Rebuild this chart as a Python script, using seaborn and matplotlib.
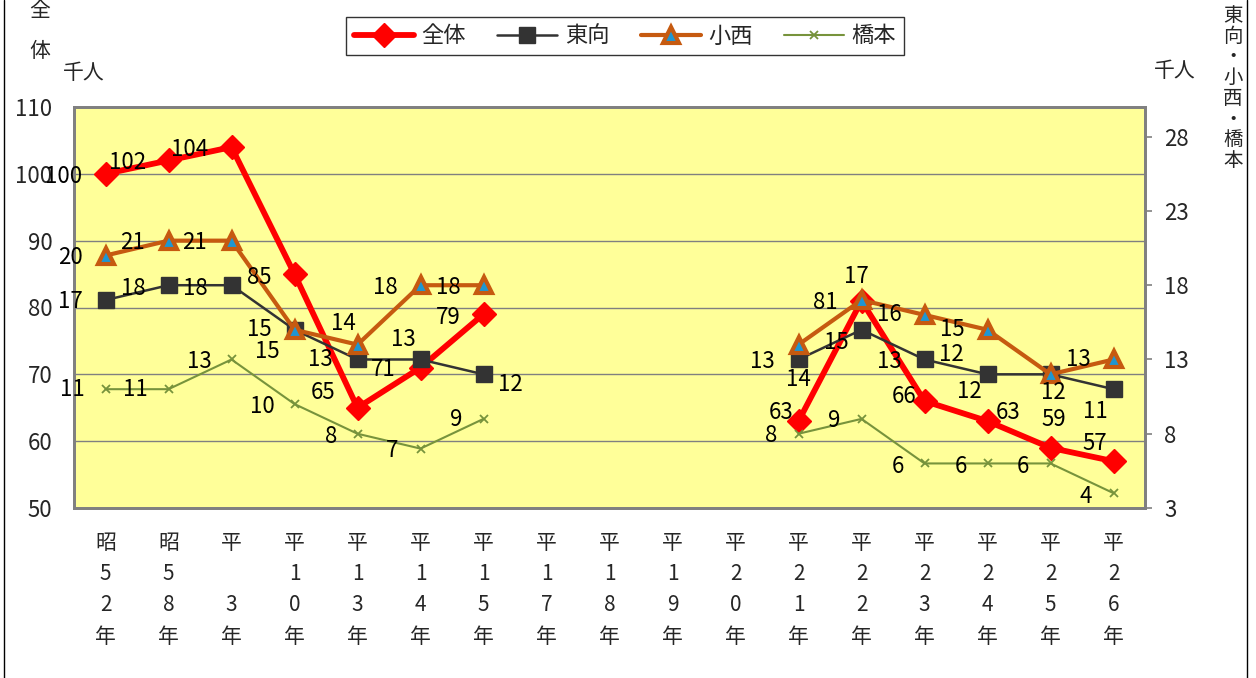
import numpy as np
import pandas as pd
import seaborn as sns
import matplotlib.pyplot as plt
from matplotlib.lines import Line2D

# categories on the x axis
years = ['昭52年', '昭58年', '平3年', '平10年', '平13年', '平14年', '平15年', '平17年',
         '平18年', '平19年', '平20年', '平21年', '平22年', '平23年', '平24年', '平25年', '平26年']

nan = np.nan
# 全体 (left axis, 千人)
zentai = [100, 102, 104, 85, 65, 71, 79, nan, nan, nan, nan, 63, 81, 66, 63, 59, 57]
# right axis series (千人)
higashimukai = [17, 18, 18, 15, 13, 13, 12, nan, nan, nan, nan, 13, 15, 13, 12, 12, 11]
konishi = [20, 21, 21, 15, 14, 18, 18, nan, nan, nan, nan, 14, 17, 16, 15, 12, 13]
hashimoto = [11, 11, 13, 10, 8, 7, 9, nan, nan, nan, nan, 8, 9, 6, 6, 6, 4]

# label placement (pixels: dx, dy downwards, alignment)
L = lambda dx=-22, dy=2: (dx, dy, 'right')
lab_zentai = [L(-23, 3), L(), L(-23), L(-23, 3), L(-22, -15), L(-25), L(-23, 3), None, None, None, None,
              L(-5, -9), L(-24, 2), L(-8, -5), (8, -9, 'left'), (3, -28, 'center'), L(-6, -18)]
lab_higashi = [L(-23, 1), L(-23, 3), L(-24, 3), L(-23, 0), L(-25, 0), L(-5, -20), (15, 10, 'left'),
               None, None, None, None, L(-24, 2), L(-13, 13), L(-23, 2), L(-24, -20), L(-69, 17), L(-6, 22)]
lab_konishi = [L(-23), L(-24), L(-25), L(-15, 22), L(-2, -21), L(-23), L(-23), None, None, None, None,
               (0, 35, 'center'), (-5, -24, 'center'), L(-23, 0), L(-23, 0), (3, 18, 'center'), L(-23, 0)]
lab_hashi = [L(-21, 0), L(-21, 0), L(-20), L(-20), L(-20, 3), L(-22), L(-21, 1), None, None, None, None,
             L(-21), L(-21), L(-20, 3), L(-20, 3), L(-21, 3), L(-21, 3)]

sns.set_style('white')
plt.rcParams['font.family'] = ['Noto Sans CJK JP', 'DejaVu Sans']

fig = plt.figure(figsize=(12.56, 6.78), dpi=100)
ax = fig.add_axes([74 / 1256, 1 - 508 / 678, (1145 - 74) / 1256, (508 - 107) / 678])
ax2 = ax.twinx()

x = np.arange(len(years))
segments = [slice(0, 7), slice(11, 17)]

styles = {
    '全体': dict(color='#FF0000', lw=4.2, marker='D', markersize=12,
               markerfacecolor='#FF0000', markeredgecolor='#FF0000', markeredgewidth=1),
    '東向': dict(color='#333333', lw=1.8, marker='s', markersize=12,
               markerfacecolor='#333333', markeredgecolor='#333333', markeredgewidth=1),
    '小西': dict(color='#C65A10', lw=3, marker='^', markersize=11,
               markerfacecolor='#1E96D2', markeredgecolor='#C65A10', markeredgewidth=3),
    '橋本': dict(color='#77933C', lw=1.5, marker='x', markersize=6,
               markerfacecolor='#77933C', markeredgecolor='#77933C', markeredgewidth=1.3),
}

series = [('全体', zentai, ax, lab_zentai), ('東向', higashimukai, ax2, lab_higashi),
          ('小西', konishi, ax2, lab_konishi), ('橋本', hashimoto, ax2, lab_hashi)]

for name, vals, a, _ in series:
    vals = np.array(vals, dtype=float)
    for seg in segments:
        sns.lineplot(x=x[seg], y=vals[seg], ax=a, legend=False, **styles[name])

# data labels, drawn on the top axes so they sit above the lines
for name, vals, a, labs in series:
    for i, v in enumerate(vals):
        if np.isnan(v) or labs[i] is None:
            continue
        dx, dy, ha = labs[i]
        ax2.annotate(f'{int(v)}', xy=(x[i], v), xycoords=a.transData,
                     xytext=(dx, -dy), textcoords='offset pixels',
                     ha=ha, va='center', fontsize=16, color='black', zorder=10)

ax.set_xlim(-0.5, len(years) - 0.5)
ax.set_ylim(50, 110)
ax.set_yticks(range(50, 111, 10))
ax2.set_ylim(3, 30)
ax2.set_yticks(range(3, 29, 5))

ax.set_facecolor('#FFFF99')
ax.grid(axis='y', color='#808080', lw=1)
ax.grid(axis='x', visible=False)
ax2.grid(False)
for a in (ax, ax2):
    for s in a.spines.values():
        s.set_color('#808080')
        s.set_linewidth(2)

def vertical(label):
    era, num = label[0], label[1:-1].rjust(2)
    return '\n'.join([era] + [c if c != ' ' else '' for c in num] + [label[-1]])

ax.set_xticks(x)
ax.set_xticklabels([vertical(y) for y in years], fontsize=15, linespacing=1.55)
ax.tick_params(axis='x', length=0, pad=17)
ax.tick_params(axis='y', length=0, pad=15.5, labelsize=16)
ax2.tick_params(axis='y', length=5, width=1.2, color='#808080', pad=9, labelsize=16)
ax.set_xlabel('')
ax.set_ylabel('')
ax2.set_ylabel('')

# axis titles
fig.text(40 / 1256, 1 - 31 / 678, '全\n体', fontsize=15, ha='center', va='center', linespacing=2.05)
fig.text(84 / 1256, 1 - 73 / 678, '千人', fontsize=15, ha='center', va='center')
fig.text(1175 / 1256, 1 - 71 / 678, '千人', fontsize=15, ha='center', va='center')
fig.text(1233 / 1256, 1 - 88 / 678, '東\n向\n・\n小\n西\n・\n橋\n本', fontsize=14,
         ha='center', va='center', linespacing=0.98)

# outer chart frame edges
fig.add_artist(Line2D([4 / 1256, 4 / 1256], [0, 1], color='black', lw=1))
fig.add_artist(Line2D([1247 / 1256, 1247 / 1256], [0, 1], color='black', lw=1))

handles = [Line2D([], [], **styles[n]) for n, _, _, _ in series]
leg = fig.legend(handles, [n for n, _, _, _ in series], loc='center',
                 bbox_to_anchor=(625 / 1256, 1 - 36 / 678), ncol=4, fontsize=16,
                 frameon=True, fancybox=False, edgecolor='black', handlelength=2.7,
                 columnspacing=1.4, handletextpad=0.35, borderpad=0.35, borderaxespad=0)
leg.get_frame().set_linewidth(1)

fig.savefig('out.png', dpi=100)
